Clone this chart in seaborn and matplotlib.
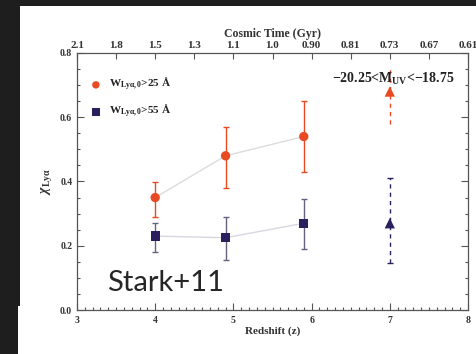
import matplotlib
matplotlib.use("Agg")
import matplotlib.pyplot as plt
from matplotlib.patches import Rectangle
from matplotlib.ticker import MultipleLocator, FixedLocator
import seaborn as sns
import pandas as pd

# Lyman-alpha fraction measurements
z_red = [4.0, 4.9, 5.9]
x_red = [0.35, 0.48, 0.54]
err_red_lo = [0.06, 0.10, 0.11]
err_red_hi = [0.05, 0.09, 0.11]

z_blue = [4.0, 4.9, 5.9]
x_blue = [0.23, 0.225, 0.27]
err_blue_lo = [0.05, 0.07, 0.08]
err_blue_hi = [0.04, 0.065, 0.075]

# z~7 points (dashed error bars)
z7 = [7.0]
x7_red = [0.68]
x7_red_lo = [0.10]
x7_red_hi = [0.07]
x7_blue = [0.27]
x7_blue_lo = [0.125]
x7_blue_hi = [0.14]

# Cosmic time axis
time_z = [3.0, 3.5, 4.0, 4.5, 5.0, 5.5, 6.0, 6.5, 7.0, 7.5, 8.0]
time_labels = ["2.1", "1.8", "1.5", "1.3", "1.1", "1.0", "0.90", "0.81", "0.73", "0.67", "0.61"]

RED = "#e84a24"
NAVY = "#2b1f5e"
BLUE_ERR = "#6a6080"

sns.set_theme(style="ticks")
plt.rcParams["font.family"] = ["Liberation Serif", "DejaVu Serif"]
plt.rcParams["font.weight"] = "bold"
plt.rcParams["axes.labelweight"] = "bold"
plt.rcParams["mathtext.fontset"] = "custom"
plt.rcParams["mathtext.rm"] = "Liberation Serif:bold"
plt.rcParams["mathtext.bf"] = "Liberation Serif:bold"
plt.rcParams["mathtext.it"] = "Liberation Serif:bold:italic"

W, H = 476, 354
fig = plt.figure(figsize=(W / 100, H / 100), dpi=100, facecolor="#1e1e1e")
fig.patches.append(Rectangle((20 / W, 0), 1, 1 - 6 / H, transform=fig.transFigure,
                             facecolor="white", edgecolor="none", zorder=-2))
fig.patches.append(Rectangle((18 / W, 0), 1, 1 - 306 / H, transform=fig.transFigure,
                             facecolor="white", edgecolor="none", zorder=-2))

ax = fig.add_axes([77 / W, 1 - 310 / H, (468 - 77) / W, (310 - 53) / H])
ax.set_facecolor("white")

red_df = pd.DataFrame({"z": z_red, "x": x_red})
blue_df = pd.DataFrame({"z": z_blue, "x": x_blue})

# connecting lines
sns.lineplot(data=red_df, x="z", y="x", ax=ax, color="#dcdcdc", lw=1.0, zorder=1)
sns.lineplot(data=blue_df, x="z", y="x", ax=ax, color="#d8d6e2", lw=1.0, zorder=1)

# error bars
ax.errorbar(z_red, x_red, yerr=[err_red_lo, err_red_hi], fmt="none",
            ecolor=RED, elinewidth=1.0, capsize=2.5, capthick=1.0, zorder=2)
ax.errorbar(z_blue, x_blue, yerr=[err_blue_lo, err_blue_hi], fmt="none",
            ecolor=BLUE_ERR, elinewidth=1.0, capsize=2.5, capthick=1.0, zorder=2)
eb1 = ax.errorbar(z7, x7_red, yerr=[x7_red_lo, x7_red_hi], fmt="none",
                  ecolor=RED, elinewidth=1.0, capsize=0, zorder=2)
eb1[2][0].set_linestyle((0, (3, 3)))
eb2 = ax.errorbar(z7, x7_blue, yerr=[x7_blue_lo, x7_blue_hi], fmt="none",
                  ecolor=NAVY, elinewidth=1.0, capsize=2, zorder=2)
eb2[2][0].set_linestyle((0, (3, 3)))

# markers
sns.scatterplot(data=red_df, x="z", y="x", ax=ax, color=RED, marker="o", s=45,
                edgecolor="none", zorder=3, label=r"W$_{\mathregular{Ly\alpha,0}}$>25 Å")
sns.scatterplot(data=blue_df, x="z", y="x", ax=ax, color=NAVY, marker="s", s=45,
                edgecolor="none", zorder=3, label=r"W$_{\mathregular{Ly\alpha,0}}$>55 Å")
ax.scatter(z7, x7_red, marker="^", s=55, color=RED, edgecolor="none", zorder=3)
ax.scatter(z7, x7_blue, marker="^", s=55, color=NAVY, edgecolor="none", zorder=3)

ax.set_xlim(3, 8)
ax.set_ylim(0, 0.8)
ax.xaxis.set_major_locator(MultipleLocator(1))
ax.xaxis.set_minor_locator(MultipleLocator(0.1))
ax.yaxis.set_major_locator(MultipleLocator(0.2))
ax.yaxis.set_minor_locator(MultipleLocator(0.05))
ax.yaxis.set_major_formatter(plt.FuncFormatter(lambda v, p: f"{v:.1f}"))
ax.tick_params(which="both", direction="in", right=True, top=False, colors="#555555",
               labelcolor="#333333")
ax.tick_params(which="major", length=5, width=0.8, labelsize=7)
ax.tick_params(which="minor", length=2.5, width=0.8)
ax.tick_params(axis="x", labelsize=7, pad=4)
for s in ax.spines.values():
    s.set_color("#555555")
    s.set_linewidth(0.9)

ax.set_xlabel("Redshift (z)", fontsize=8, color="#333333", labelpad=1)
ax.set_ylabel(r"$\chi_{\mathregular{Ly\alpha}}$", fontsize=10, color="#333333", labelpad=4)

top = ax.twiny()
top.set_xlim(ax.get_xlim())
top.xaxis.set_major_locator(FixedLocator(time_z))
top.set_xticklabels(time_labels)
top.tick_params(axis="x", direction="in", length=4, width=0.8, colors="#555555",
                labelcolor="#333333", labelsize=8, pad=2)
top.set_xlabel("Cosmic Time (Gyr)", fontsize=8.5, color="#333333", labelpad=3)
for s in top.spines.values():
    s.set_visible(False)

leg = ax.legend(loc="upper left", bbox_to_anchor=(0.0, 0.94), frameon=False,
                fontsize=8, handletextpad=0.2, borderaxespad=0.3,
                labelspacing=0.9, markerscale=0.8)
for t in leg.get_texts():
    t.set_color("#222222")

ax.text(0.965, 0.9, r"$-$20.25<M$_{\mathregular{UV}}$<$-$18.75", transform=ax.transAxes,
        ha="right", va="center", fontsize=10, color="#222222")

fig.text(107 / W, 1 - 283 / H, "Stark+11", fontsize=21, family="Lato", weight="normal",
         color="#262626", ha="left", va="center", zorder=5)

fig.savefig("out.png", dpi=100, facecolor=fig.get_facecolor())
